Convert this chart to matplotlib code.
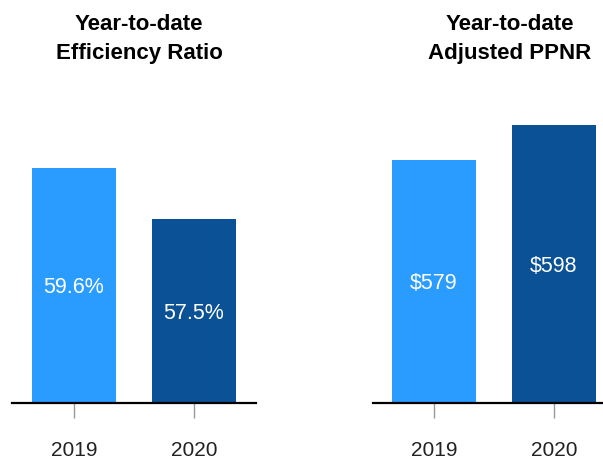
import matplotlib.pyplot as plt

plt.rcParams['font.family'] = ['Liberation Sans', 'DejaVu Sans']

years = ['2019', '2020']
eff_ratio = [59.6, 57.5]
eff_labels = ['59.6%', '57.5%']
ppnr = [579, 598]
ppnr_labels = ['$579', '$598']
colors = ['#2b9cff', '#0a5195']

W, H = 603, 459
fig = plt.figure(figsize=(W / 100, H / 100), dpi=100)


def px_axes(x0, x1, y_top, y_base):
    # pixel box (from top-left) -> figure fraction
    return fig.add_axes([x0 / W, (H - y_base) / H, (x1 - x0) / W, (y_base - y_top) / H])


def draw_panel(ax, values, labels, ymin, ymax, xlim):
    ax.bar(range(len(values)), [v - ymin for v in values], bottom=ymin,
           width=0.7, color=colors)
    for i, (v, lab) in enumerate(zip(values, labels)):
        ax.text(i, (v + ymin) / 2 - (ymax - ymin) * 0.008, lab, ha='center', va='center',
                color='white', fontsize=15.5)
    ax.set_ylim(ymin, ymax)
    ax.set_xlim(*xlim)
    ax.set_xticks(range(len(values)))
    ax.set_xticklabels(years, fontsize=15, color='#222222')
    ax.tick_params(axis='x', length=11, width=1, color='#999999', pad=16)
    ax.set_yticks([])
    for s in ['top', 'right', 'left']:
        ax.spines[s].set_visible(False)
    ax.spines['bottom'].set_linewidth(1.6)
    ax.spines['bottom'].set_color('black')


ax1 = px_axes(12, 256, 100, 403)
draw_panel(ax1, eff_ratio, eff_labels, 49.93, 62.4, (-0.517, 1.517))

ax2 = px_axes(373, 603, 100, 403)
draw_panel(ax2, ppnr, ppnr_labels, 447, 611.5, (-0.508, 1.408))

fig.text(139 / W, 1 - 39 / H, 'Year-to-date\nEfficiency Ratio', ha='center', va='center',
         fontsize=16, fontweight='bold', linespacing=1.55)
fig.text(510 / W, 1 - 39 / H, 'Year-to-date\nAdjusted PPNR', ha='center', va='center',
         fontsize=16, fontweight='bold', linespacing=1.55)

fig.savefig('out.png', dpi=100)
